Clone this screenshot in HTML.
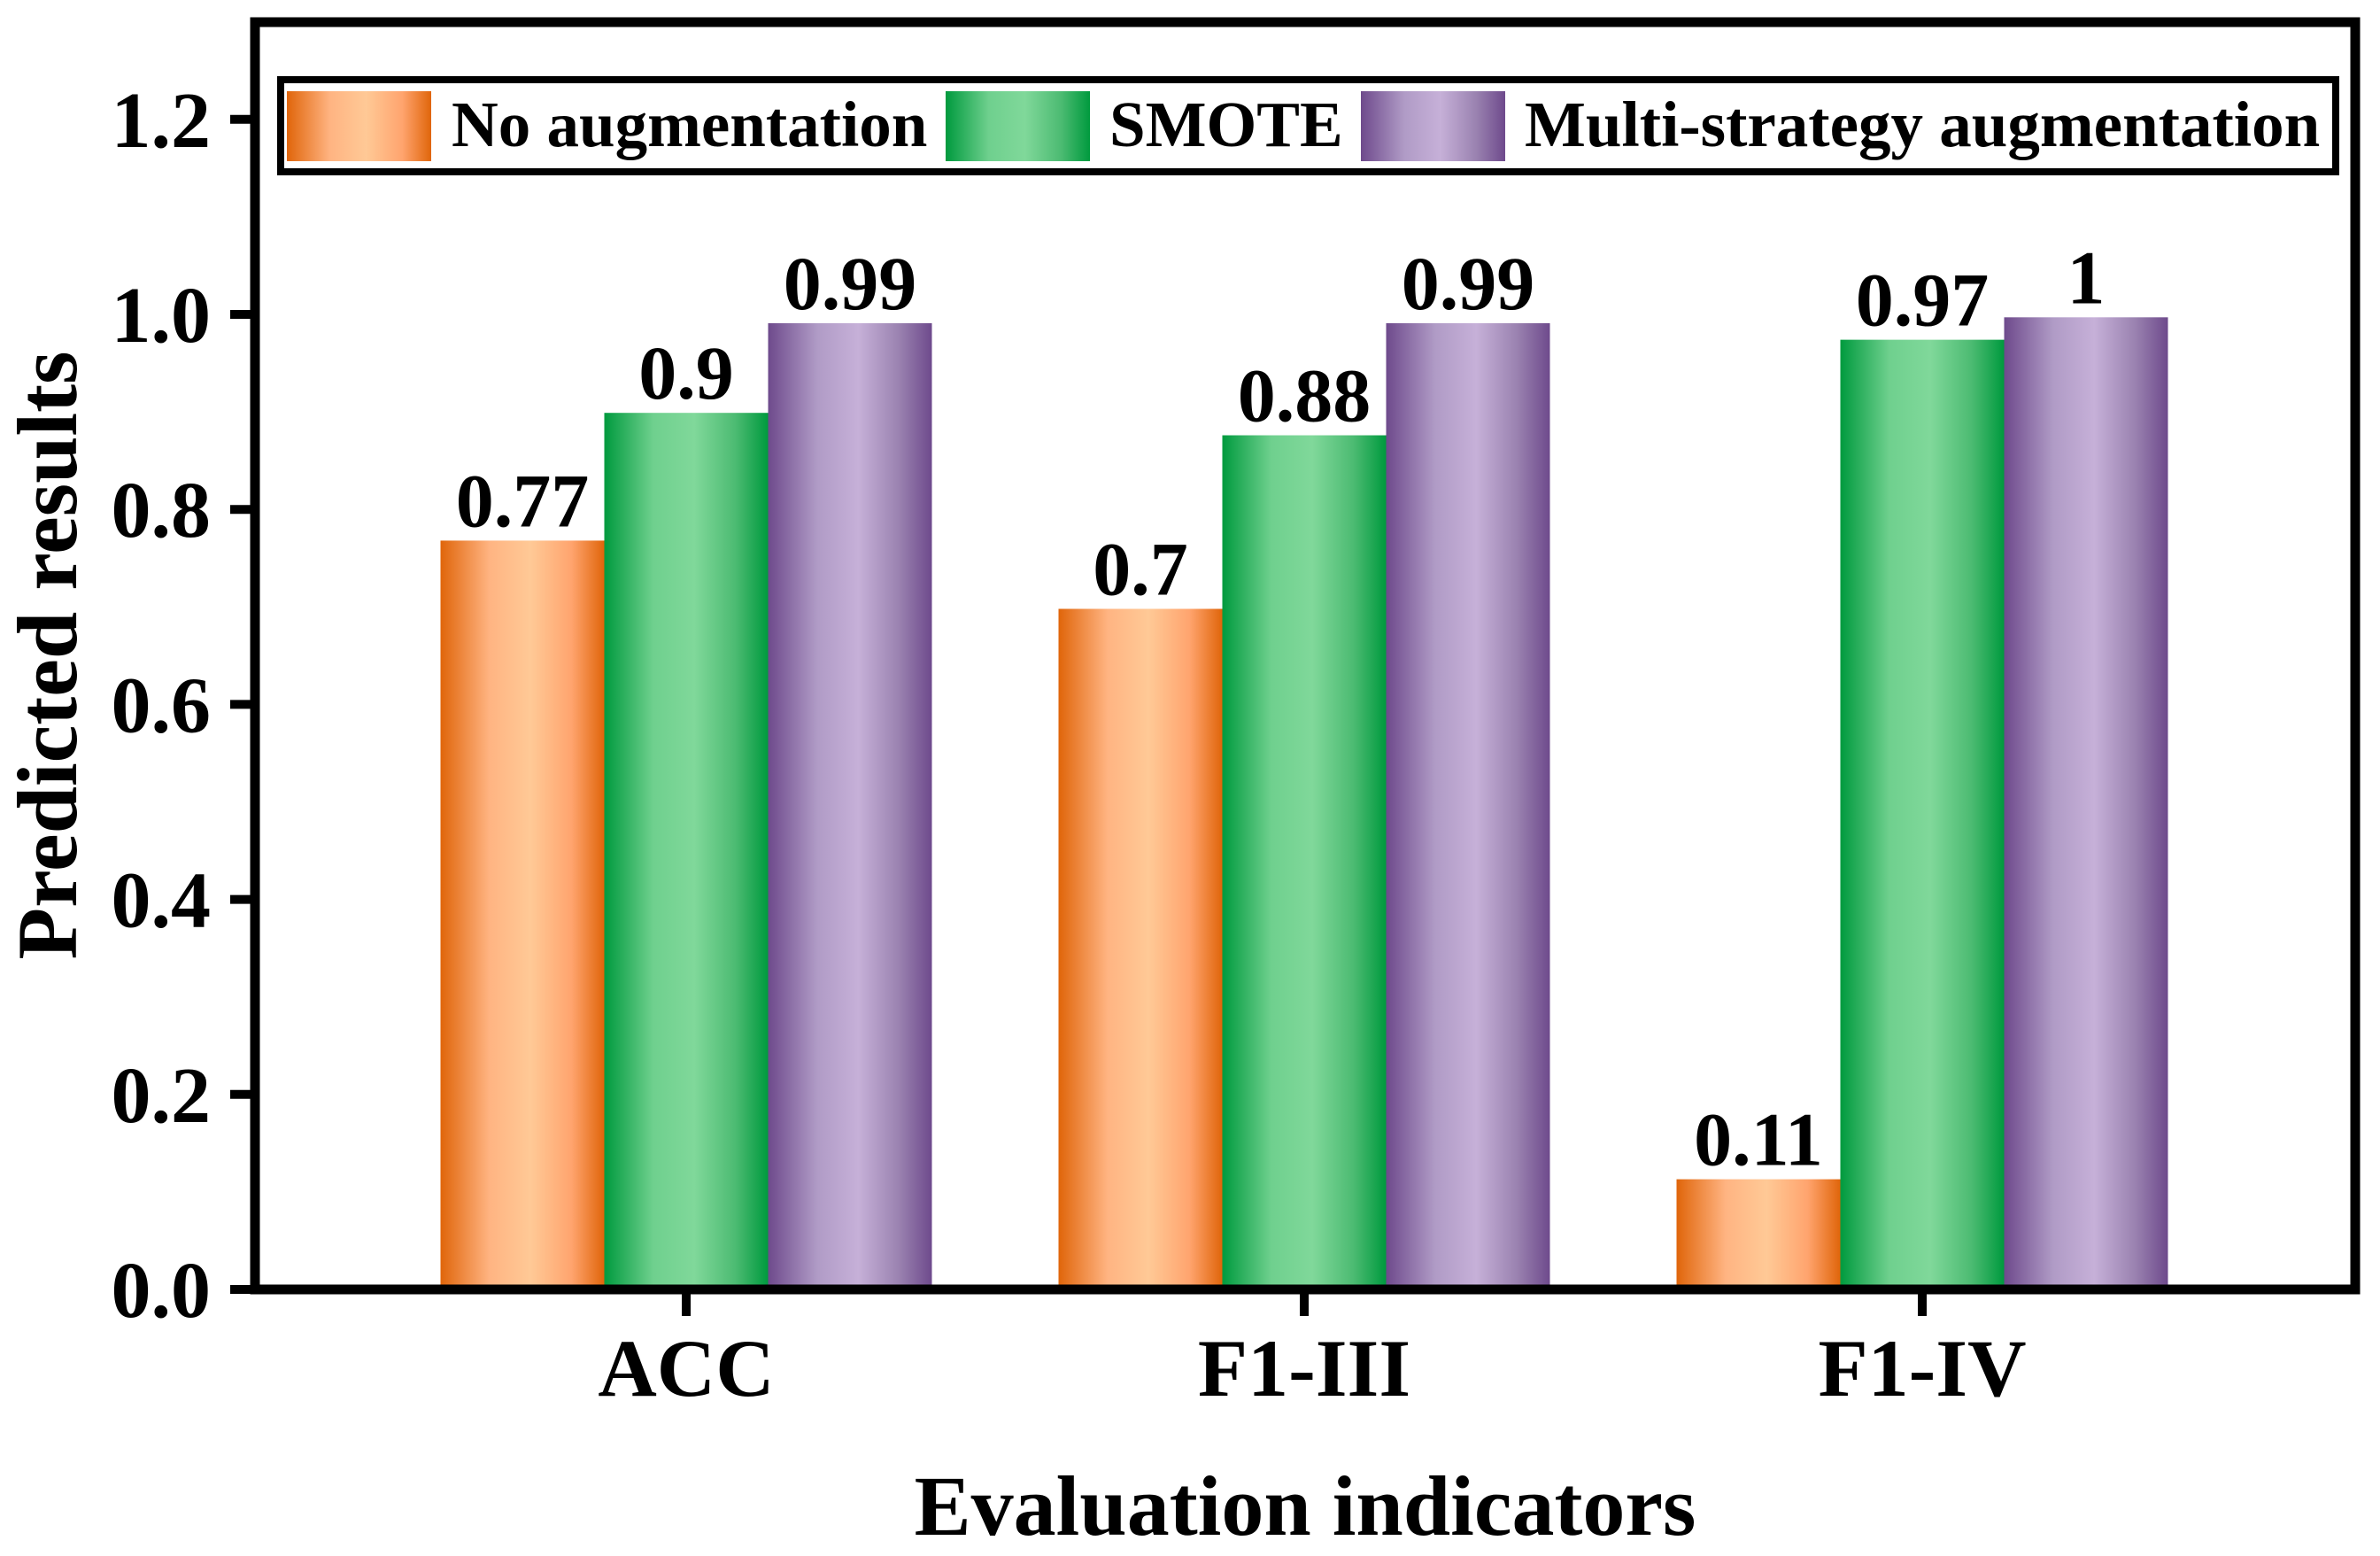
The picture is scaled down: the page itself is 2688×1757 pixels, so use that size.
<!DOCTYPE html>
<html><head><meta charset="utf-8"><style>
html,body{margin:0;padding:0;background:#fff;}
svg{display:block;font-family:"Liberation Serif",serif;font-weight:bold;}
</style></head><body>
<svg id="chart" width="2688" height="1757" viewBox="0 0 2688 1757" xmlns="http://www.w3.org/2000/svg">
<defs>
<linearGradient id="gO" x1="0" x2="1" y1="0" y2="0">
<stop offset="0" stop-color="#E0650A"/><stop offset="0.3" stop-color="#FFB482"/><stop offset="0.55" stop-color="#FFC996"/><stop offset="0.8" stop-color="#FFA46E"/><stop offset="1" stop-color="#E0650A"/></linearGradient>
<linearGradient id="gG" x1="0" x2="1" y1="0" y2="0">
<stop offset="0" stop-color="#009A3E"/><stop offset="0.3" stop-color="#6FD08E"/><stop offset="0.55" stop-color="#80D89A"/><stop offset="0.8" stop-color="#4CBB72"/><stop offset="1" stop-color="#009A3E"/></linearGradient>
<linearGradient id="gP" x1="0" x2="1" y1="0" y2="0">
<stop offset="0" stop-color="#6E4A8C"/><stop offset="0.3" stop-color="#B09BC6"/><stop offset="0.55" stop-color="#C6B0D8"/><stop offset="0.8" stop-color="#9A82B0"/><stop offset="1" stop-color="#6E4A8C"/></linearGradient>
</defs>
<g id="bars"></g>
<g id="labels"></g>
<g id="axes"></g>
<g>
<rect x="317" y="90" width="2321" height="104" fill="#fff" stroke="#000" stroke-width="8"/>
<rect x="324" y="103" width="163" height="79" fill="url(#gO)"/>
<text x="510" y="165" font-size="73">No augmentation</text>
<rect x="1068" y="103" width="163" height="79" fill="url(#gG)"/>
<text x="1253" y="165" font-size="73">SMOTE</text>
<rect x="1537" y="103" width="163" height="79" fill="url(#gP)"/>
<text x="1722" y="165" font-size="73">Multi-strategy augmentation</text>
</g>
<text x="1474" y="1733" font-size="96" text-anchor="middle">Evaluation indicators</text>
<text transform="translate(86,740) rotate(-90)" font-size="96" text-anchor="middle">Predicted results</text>
</svg>
<script>
const categories = ["ACC", "F1-III", "F1-IV"];
const noAug = [0.768, 0.698, 0.113];
const smote = [0.899, 0.876, 0.974];
const multi = [0.991, 0.991, 0.997];
const noAugLabels = ["0.77", "0.7", "0.11"];
const smoteLabels = ["0.9", "0.88", "0.97"];
const multiLabels = ["0.99", "0.99", "1"];
const yTicks = [0, 0.2, 0.4, 0.6, 0.8, 1.0, 1.2];
const yTickLabels = ["0.0", "0.2", "0.4", "0.6", "0.8", "1.0", "1.2"];

const NS = "http://www.w3.org/2000/svg";
function y(v){ return 1456 - 1101 * v; }
function xc(i){ return 775 + 698 * i; }
const BW = 185;
function mk(tag, attrs, parent){
  const e = document.createElementNS(NS, tag);
  for (const k in attrs) e.setAttribute(k, attrs[k]);
  parent.appendChild(e); return e;
}
const bars = document.getElementById('bars');
const labels = document.getElementById('labels');
const axes = document.getElementById('axes');
const series = [[noAug, noAugLabels, 'url(#gO)', 'no-augmentation'], [smote, smoteLabels, 'url(#gG)', 'smote'], [multi, multiLabels, 'url(#gP)', 'multi-strategy']];
categories.forEach((c, i) => {
  series.forEach((s, j) => {
    const x0 = xc(i) - 1.5 * BW + j * BW;
    const r = mk('rect', {x: x0, y: y(s[0][i]), width: BW, height: y(0) - y(s[0][i]), fill: s[2]}, bars);
    
    
    const t = mk('text', {x: x0 + BW / 2, y: y(s[0][i]) - 16, 'font-size': 86, 'text-anchor': 'middle'}, labels);
    t.textContent = s[1][i];
    
    
  });
  const tk = mk('line', {x1: xc(i), x2: xc(i), y1: 1456, y2: 1486, stroke: '#000', 'stroke-width': 10}, axes);
  
  
  const tl = mk('text', {x: xc(i), y: 1576, 'font-size': 92, 'text-anchor': 'middle'}, axes);
  tl.textContent = c;
  
  
});
yTicks.forEach((v, k) => {
  const tk = mk('line', {x1: 260, x2: 290, y1: y(v), y2: y(v), stroke: '#000', 'stroke-width': 10}, axes);
  
  
  const tl = mk('text', {x: 238, y: y(v) + 31, 'font-size': 90, 'text-anchor': 'end'}, axes);
  tl.textContent = yTickLabels[k];
  
  
});
const frame = mk('rect', {x: 288, y: 25, width: 2372, height: 1431, fill: 'none', stroke: '#000', 'stroke-width': 11}, axes);


</script>
</body></html>
